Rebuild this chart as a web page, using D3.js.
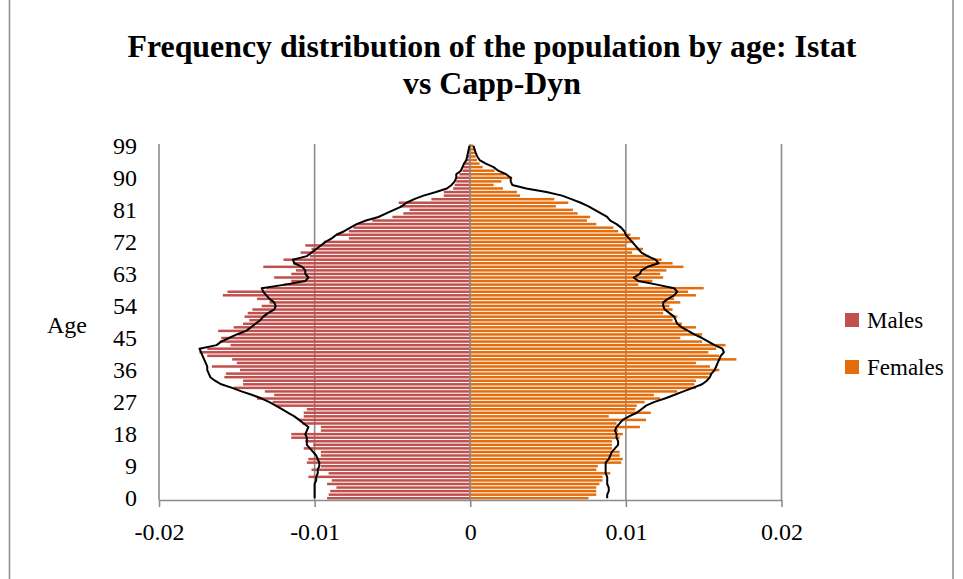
<!DOCTYPE html>
<html>
<head>
<meta charset="utf-8">
<script src="https://cdn.jsdelivr.net/npm/d3@7"></script>
<style>
  body { margin: 0; background: #fff; }
  text { font-family: "Liberation Serif", "DejaVu Serif", serif; fill: #000; }
</style>
</head>
<body>
<svg id="chart" width="963" height="579"></svg>
<script>
// ages on the category axis
let ages = [0,1,2,3,4,5,6,7,8,9,10,11,12,13,14,15,16,17,18,19,
  20,21,22,23,24,25,26,27,28,29,30,31,32,33,34,35,36,37,38,39,
  40,41,42,43,44,45,46,47,48,49,50,51,52,53,54,55,56,57,58,59,
  60,61,62,63,64,65,66,67,68,69,70,71,72,73,74,75,76,77,78,79,
  80,81,82,83,84,85,86,87,88,89,90,91,92,93,94,95,96,97,98,99];

let ageTicks = [0, 9, 18, 27, 36, 45, 54, 63, 72, 81, 90, 99];
let valueTicks = [-0.02, -0.01, 0, 0.01, 0.02];
let seriesNames = ['Males', 'Females'];

// Istat bars
let istatMales = [-0.0092,-0.0091,-0.0090,-0.0086,-0.0092,-0.0089,-0.0104,-0.0091,-0.0102,-0.0096,
  -0.0105,-0.0104,-0.0096,-0.0096,-0.0107,-0.0101,-0.0106,-0.0115,-0.0115,-0.0096,
  -0.0096,-0.0108,-0.0110,-0.0107,-0.0107,-0.0105,-0.0125,-0.0127,-0.0137,-0.0126,
  -0.0132,-0.0152,-0.0146,-0.0146,-0.0158,-0.0157,-0.0148,-0.0166,-0.0150,-0.0153,
  -0.0169,-0.0174,-0.0169,-0.0154,-0.0161,-0.0160,-0.0149,-0.0162,-0.0152,-0.0146,
  -0.0142,-0.0145,-0.0143,-0.0140,-0.0134,-0.0129,-0.0137,-0.0159,-0.0156,-0.0131,
  -0.0120,-0.0115,-0.0126,-0.0115,-0.0112,-0.0133,-0.0114,-0.0120,-0.0103,-0.0109,
  -0.0102,-0.0106,-0.0094,-0.0078,-0.0086,-0.0078,-0.0075,-0.0073,-0.0063,-0.0050,
  -0.0043,-0.0039,-0.0045,-0.0046,-0.0025,-0.0017,-0.0017,-0.0011,-0.0010,-0.0009,
  -0.0009,-0.0007,-0.0005,-0.00045,-0.00037,-0.0003,-0.0002,-0.00015,-0.0001,-0.00005];

let istatFemales = [0.0076,0.0081,0.0081,0.0081,0.0083,0.0085,0.0085,0.0090,0.0081,0.0082,
  0.0097,0.0098,0.0096,0.0096,0.0091,0.0091,0.0091,0.0096,0.0098,0.0095,
  0.0109,0.0094,0.0113,0.0089,0.0116,0.0106,0.0107,0.0112,0.0122,0.0118,
  0.0133,0.0145,0.0144,0.0145,0.0153,0.0155,0.0160,0.0154,0.0145,0.0171,
  0.0160,0.0153,0.0158,0.0164,0.0149,0.0135,0.0149,0.0139,0.0145,0.0136,
  0.0130,0.0133,0.0124,0.0130,0.0128,0.0135,0.0131,0.0145,0.0140,0.0150,
  0.0108,0.0117,0.0124,0.0122,0.0126,0.0137,0.0130,0.0123,0.0115,0.0104,
  0.0111,0.0100,0.0105,0.0109,0.0103,0.0095,0.0092,0.0081,0.0075,0.0077,
  0.0069,0.0066,0.0055,0.0063,0.0054,0.0032,0.0030,0.0021,0.0015,0.0020,
  0.0027,0.0022,0.00156,0.0008,0.0006,0.00043,0.00035,0.0003,0.00028,0.0002];

// Capp-Dyn lines
let cappMales = [-0.0100,-0.0100,-0.0100,-0.0100,-0.0100,-0.0099,-0.0099,-0.0098,-0.0098,-0.0097,
  -0.0097,-0.0098,-0.0099,-0.0101,-0.0103,-0.0105,-0.0105,-0.0105,-0.0106,-0.0105,
  -0.0104,-0.0107,-0.0110,-0.0113,-0.0117,-0.0121,-0.0125,-0.0129,-0.0134,-0.0140,
  -0.0147,-0.0153,-0.0160,-0.0164,-0.0167,-0.0168,-0.0169,-0.0169,-0.0170,-0.0171,
  -0.0172,-0.0173,-0.0174,-0.0163,-0.0160,-0.0155,-0.0150,-0.0144,-0.0141,-0.0138,
  -0.0135,-0.0133,-0.0130,-0.0126,-0.0125,-0.0126,-0.0129,-0.0131,-0.0133,-0.0134,
  -0.0119,-0.0106,-0.0104,-0.0106,-0.0106,-0.0108,-0.0113,-0.0114,-0.0105,-0.0102,
  -0.0099,-0.0096,-0.0093,-0.0089,-0.0086,-0.0081,-0.0077,-0.0073,-0.0067,-0.0059,
  -0.0054,-0.0049,-0.0044,-0.0041,-0.0036,-0.0030,-0.0022,-0.0015,-0.0012,-0.0010,
  -0.0009,-0.0009,-0.0006,-0.0005,-0.0004,-0.00025,-0.0002,-0.00015,-0.0001,-0.00005];

let cappFemales = [0.0088,0.0088,0.0089,0.0089,0.0088,0.0088,0.0088,0.0087,0.0087,0.0087,
  0.0087,0.0089,0.0090,0.0091,0.0093,0.0095,0.0095,0.0094,0.0094,0.0093,
  0.0094,0.0096,0.0098,0.0102,0.0107,0.0110,0.0113,0.0118,0.0125,0.0131,
  0.0137,0.0143,0.0149,0.0152,0.0154,0.0155,0.0157,0.0158,0.0159,0.0160,
  0.0161,0.0163,0.0162,0.0157,0.0153,0.0149,0.0144,0.0140,0.0136,0.0133,
  0.0132,0.0131,0.0128,0.0125,0.0124,0.0124,0.0127,0.0131,0.0133,0.0131,
  0.0120,0.0108,0.0105,0.0109,0.0110,0.0114,0.0121,0.0119,0.0114,0.0110,
  0.0108,0.0106,0.0104,0.0102,0.0100,0.0099,0.0097,0.0094,0.0090,0.0088,
  0.0084,0.0080,0.0076,0.0071,0.0065,0.0059,0.0049,0.0036,0.0027,0.0026,
  0.0026,0.0023,0.0018,0.0015,0.0010,0.0006,0.00045,0.00035,0.00028,0.0002];

let colors = ['#c0504d', '#e46c0a'];

let svg = d3.select('#chart');

// outer chart border
svg.append('rect')
  .attr('x', 9.5).attr('y', -2)
  .attr('width', 943.5).attr('height', 584)
  .attr('fill', 'none')
  .attr('stroke', '#8c8c8c')
  .attr('stroke-width', 1.5);

let xScale = d3.scaleLinear()
  .domain([-0.02, 0.02])
  .range([159, 781.5]);

let yScale = d3.scaleBand()
  .domain(ages)
  .range([500, 144])
  .paddingInner(0.3)
  .paddingOuter(0.15);

let g = svg.append('g');

// vertical gridlines
g.selectAll('.grid')
  .data(valueTicks)
  .enter().append('line')
  .attr('class', 'grid')
  .attr('x1', d => xScale(d)).attr('x2', d => xScale(d))
  .attr('y1', 144).attr('y2', 500)
  .attr('stroke', '#8c8c8c')
  .attr('stroke-width', 1.6);

// bars
let bars = [];
ages.forEach((a, i) => {
  bars.push({age: a, value: istatMales[i], s: 0});
  bars.push({age: a, value: istatFemales[i], s: 1});
});

g.selectAll('.bar')
  .data(bars)
  .enter().append('rect')
  .attr('class', 'bar')
  .attr('x', d => Math.min(xScale(0), xScale(d.value)))
  .attr('y', d => yScale(d.age))
  .attr('width', d => Math.abs(xScale(d.value) - xScale(0)))
  .attr('height', yScale.bandwidth())
  .attr('fill', d => colors[d.s]);

// zero line over the bars
g.append('line')
  .attr('x1', xScale(0)).attr('x2', xScale(0))
  .attr('y1', 144).attr('y2', 500)
  .attr('stroke', '#8c8c8c')
  .attr('stroke-width', 1.6);

// Capp-Dyn lines
let line = d3.line()
  .x(d => xScale(d[1]))
  .y(d => yScale(d[0]) + yScale.bandwidth() / 2);

[cappMales, cappFemales].forEach(vals => {
  g.append('path')
    .datum(ages.map((a, i) => [a, vals[i]]))
    .attr('d', line)
    .attr('fill', 'none')
    .attr('stroke', '#000')
    .attr('stroke-width', 2)
    .attr('stroke-linejoin', 'round');
});

// bottom axis
let xAxis = d3.axisBottom(xScale)
  .tickValues(valueTicks)
  .tickSize(7)
  .tickSizeOuter(0)
  .tickPadding(16)
  .tickFormat(d => d === 0 ? '0' : d3.format('.2f')(d).replace('−', '-'));

let xg = g.append('g')
  .attr('transform', 'translate(0,500)')
  .call(xAxis);
xg.select('.domain').attr('stroke', '#8c8c8c').attr('stroke-width', 1.6);
xg.selectAll('.tick line').attr('stroke', '#8c8c8c').attr('stroke-width', 1.6);
xg.selectAll('.tick text')
  .style('font-family', '"Liberation Serif", serif')
  .style('font-size', '24px')
  .attr('fill', '#000');

// age labels
g.selectAll('.age-label')
  .data(ageTicks)
  .enter().append('text')
  .attr('class', 'age-label')
  .attr('x', 137)
  .attr('y', d => yScale(d) + yScale.bandwidth() / 2)
  .attr('dy', '0.33em')
  .attr('text-anchor', 'end')
  .style('font-size', '24px')
  .text(d => d);

svg.append('text')
  .attr('x', 47)
  .attr('y', 333)
  .style('font-size', '24px')
  .text('Age');

// title
let title = svg.append('text')
  .attr('text-anchor', 'middle')
  .style('font-weight', 'bold')
  .style('font-size', '28px');
title.append('tspan').attr('x', 492).attr('y', 57)
  .text('Frequency distribution of the population by age: Istat');
title.append('tspan').attr('x', 492).attr('y', 94)
  .text('vs Capp-Dyn');
let tw = title.select('tspan').node().getComputedTextLength();
title.style('font-size', (28 * 729 / tw) + 'px');

// legend
let legend = svg.selectAll('.legend')
  .data(seriesNames)
  .enter().append('g')
  .attr('class', 'legend')
  .attr('transform', (d, i) => 'translate(845,' + (313 + i * 47) + ')');
legend.append('rect')
  .attr('width', 14).attr('height', 14)
  .attr('fill', (d, i) => colors[i]);
legend.append('text')
  .attr('x', 22)
  .attr('y', 15)
  .style('font-size', '23px')
  .text(d => d);
</script>
</body>
</html>
